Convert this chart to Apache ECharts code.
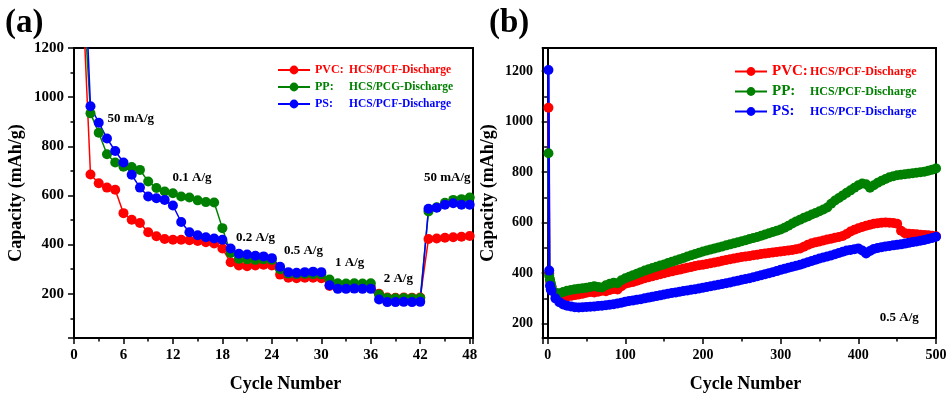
<!DOCTYPE html>
<html>
<head>
<meta charset="utf-8">
<script src="https://cdn.jsdelivr.net/npm/echarts@6/dist/echarts.min.js"></script>
<style>
html, body { margin: 0; padding: 0; background: #fff; }
#chart-a { position: absolute; left: 0; top: 0; width: 480px; height: 399px; }
#chart-b { position: absolute; left: 480px; top: 0; width: 472px; height: 399px; }
</style>
</head>
<body>
<div id="chart-a"></div>
<div id="chart-b"></div>
<script>
// ---- panel (a): rate capability, cycles 1..48 ----
var cyclesA = [];
for (var c = 1; c <= 48; c++) cyclesA.push(c);

var pvcA = [1450, 685, 650, 632, 623, 528, 501, 488, 450, 434, 423, 420, 420, 418, 415, 410, 405, 384,
    328, 315, 312, 315, 318, 315, 278, 265, 263, 265, 265, 263, 232, 228, 228, 227, 228, 228,
    200, 185, 184, 185, 184, 185, 423, 425, 428, 430, 432, 435];
var ppA = [1500, 934, 855, 768, 734, 717, 716, 704, 657, 630, 616, 609, 596, 592, 580, 573, 571, 467,
    366, 342, 340, 338, 340, 338, 300, 282, 280, 281, 280, 279, 258, 243, 242, 243, 242, 243,
    197, 183, 182, 183, 182, 183, 535, 552, 570, 582, 585, 592];
var psA = [1750, 963, 896, 832, 781, 734, 684, 632, 596, 589, 582, 559, 492, 450, 438, 430, 425, 420,
    384, 363, 360, 355, 352, 345, 310, 288, 285, 288, 290, 288, 235, 220, 220, 221, 220, 220,
    177, 166, 166, 167, 166, 167, 546, 550, 562, 568, 562, 562];

var rateLabels = ['50 mA/g', '0.1 A/g', '0.2 A/g', '0.5 A/g', '1 A/g', '2 A/g', '50 mA/g'];
var rateAt = [[4.0, 911], [11.9, 671], [19.6, 427], [25.4, 377], [31.6, 328], [37.5, 262], [42.4, 671]];

var tagsA = ['PVC:', 'PP:', 'PS:'];
var restA = ['HCS/PCF-Discharge', 'HCS/PCG-Discharge', 'HCS/PCF-Discharge'];

// ---- panel (b): long cycling at 0.5 A/g ----
var cyclesB = [1, 2, 3, 4];
for (var k = 5; k <= 500; k += 5) cyclesB.push(k);

var pvcB = [1055, 400, 370, 355,
    345, 318, 308, 305, 308, 310, 313, 315, 318, 322,
    325, 323, 326, 330, 328, 333, 337, 335, 348, 358,
    362, 365, 370, 375, 380, 384, 388, 392, 396, 400,
    404, 407, 411, 414, 418, 421, 424, 428, 431, 433,
    436, 439, 442, 445, 449, 452, 455, 458, 461, 464,
    466, 468, 471, 473, 476, 478, 480, 482, 484, 486,
    488, 490, 492, 495, 498, 505, 512, 518, 522, 525,
    529, 533, 536, 540, 543, 547, 555, 565, 572, 578,
    583, 588, 592, 596, 598, 600, 601, 600, 599, 596,
    568, 558, 556, 555, 554, 552, 551, 550, 548, 546];
var ppB = [875, 390, 375, 360,
    345, 322, 320, 325, 330, 333, 336, 338, 340, 342,
    345, 348, 345, 343, 352, 358, 362, 360, 372, 380,
    386, 392, 398, 404, 410, 415, 420, 425, 430, 434,
    440, 445, 450, 455, 460, 466, 471, 476, 481, 486,
    490, 494, 498, 502, 506, 510, 514, 518, 522, 526,
    530, 535, 539, 543, 548, 553, 558, 563, 568, 573,
    580, 588, 597, 605, 612, 619, 625, 632, 638, 645,
    652, 660, 675, 688, 698, 708, 718, 728, 738, 748,
    755, 752, 738, 748, 758, 766, 773, 780, 784, 788,
    790, 792, 794, 796, 798, 800, 802, 806, 810, 815];
var psB = [1205, 410, 350, 335,
    330, 300, 285, 276, 271, 268, 265, 264, 265, 266,
    267, 268, 270, 271, 273, 275, 277, 280, 283, 287,
    290, 292, 295, 297, 300, 303, 306, 309, 312, 315,
    318, 321, 323, 326, 329, 331, 334, 336, 339, 342,
    345, 348, 351, 354, 357, 360, 363, 367, 370, 374,
    377, 380, 384, 388, 392, 396, 400, 404, 408, 413,
    417, 421, 425, 429, 433, 438, 443, 448, 453, 458,
    462, 466, 470, 475, 480, 485, 490, 492, 495, 498,
    490, 478, 488, 496, 500, 503, 506, 508, 510, 512,
    514, 517, 520, 523, 525, 528, 531, 535, 539, 544];

var tagsB = ['PVC:', 'PP:', 'PS:'];
var restB = ['HCS/PCF-Discharge', 'HCS/PCF-Discharge', 'HCS/PCF-Discharge'];

var colors = ['#ff0000', '#008000', '#0000ff'];
var serif = "'Liberation Serif', 'Times New Roman', serif";

function pairs(xs, ys) {
    return xs.map(function (x, i) { return [x, ys[i]]; });
}

function lineSeries(name, color, xs, ys, size, width) {
    return {
        name: name,
        type: 'line',
        data: pairs(xs, ys),
        symbol: 'circle',
        symbolSize: size,
        itemStyle: { color: color },
        lineStyle: { color: color, width: width },
        emphasis: { disabled: true },
        clip: true
    };
}

function legendRich(tagSize, tagWidth, textSize) {
    var rich = {};
    for (var i = 0; i < 3; i++) {
        rich['t' + i] = { fontFamily: serif, fontWeight: 'bold', fontSize: tagSize, color: colors[i], width: tagWidth, lineHeight: 13 };
        rich['x' + i] = { fontFamily: serif, fontWeight: 'bold', fontSize: textSize, color: colors[i], lineHeight: 13 };
    }
    return rich;
}

function plainNumber(v) { return String(v); }

function axisCommon() {
    return {
        type: 'value',
        axisLine: { show: true, lineStyle: { color: '#000', width: 2 } },
        axisTick: { show: true, length: 6, lineStyle: { color: '#000', width: 1.5 } },
        minorTick: { show: true, splitNumber: 2, length: 3.5, lineStyle: { color: '#000', width: 1.5 } },
        splitLine: { show: false },
        nameLocation: 'middle',
        nameMoveOverlap: false,
        nameTextStyle: { color: '#000', fontFamily: serif, fontWeight: 'bold', fontSize: 18 }
    };
}

function merge(a, b) {
    for (var key in b) a[key] = b[key];
    return a;
}

// ---------- chart (a) ----------
var namesA = tagsA.map(function (t, i) { return t + ' ' + restA[i]; });
var chartA = echarts.init(document.getElementById('chart-a'));

var seriesA = [
    lineSeries(namesA[0], colors[0], cyclesA, pvcA, 10, 1.5),
    lineSeries(namesA[1], colors[1], cyclesA, ppA, 10, 1.5),
    lineSeries(namesA[2], colors[2], cyclesA, psA, 10, 1.5)
];
seriesA[2].markPoint = {
    silent: true,
    symbol: 'circle',
    symbolSize: 1,
    itemStyle: { color: 'rgba(0,0,0,0)' },
    label: { show: true, position: 'right', distance: 0, formatter: '{b}', color: '#000',
        fontFamily: serif, fontWeight: 'bold', fontSize: 13 },
    data: rateLabels.map(function (t, i) { return { name: t, coord: rateAt[i] }; })
};

chartA.setOption({
    animation: false,
    title: { text: '(a)', left: 0, top: 2, textStyle: { fontFamily: serif, fontWeight: 'bold', fontSize: 33, color: '#000' } },
    grid: { left: 74, top: 48, width: 399, height: 290, show: true, borderColor: '#000', borderWidth: 2,
        outerBoundsMode: 'none', containLabel: false },
    legend: {
        orient: 'vertical', left: 272, top: 59,
        itemWidth: 32, itemHeight: 11, itemGap: 5,
        data: namesA,
        formatter: function (name) {
            var i = namesA.indexOf(name);
            return '{t' + i + '|' + tagsA[i] + '}{x' + i + '|' + restA[i] + '}';
        },
        textStyle: { rich: legendRich(12, 34, 11.5) }
    },
    xAxis: merge(axisCommon(), {
        min: 0, max: 48.4, interval: 6,
        name: 'Cycle Number', nameGap: 37,
        nameTextStyle: { color: '#000', fontFamily: serif, fontWeight: 'bold', fontSize: 18, padding: [0, 0, 0, 24] },
        axisLabel: { color: '#000', fontFamily: serif, fontWeight: 'bold', fontSize: 15, margin: 10, showMaxLabel: false }
    }),
    yAxis: merge(axisCommon(), {
        min: 20, max: 1200,
        name: 'Capacity (mAh/g)', nameGap: 49,
        axisLabel: { color: '#000', fontFamily: serif, fontWeight: 'bold', fontSize: 15, margin: 10, showMinLabel: false, formatter: plainNumber }
    }),
    series: seriesA
});

// ---------- chart (b) ----------
var namesB = tagsB.map(function (t, i) { return t + ' ' + restB[i]; });
var chartB = echarts.init(document.getElementById('chart-b'));

var seriesB = [
    lineSeries(namesB[0], colors[0], cyclesB, pvcB, 10, 2.5),
    lineSeries(namesB[1], colors[1], cyclesB, ppB, 10, 2.5),
    lineSeries(namesB[2], colors[2], cyclesB, psB, 10, 2.5)
];
seriesB[2].markPoint = {
    silent: true,
    symbol: 'circle',
    symbolSize: 1,
    itemStyle: { color: 'rgba(0,0,0,0)' },
    label: { show: true, position: 'right', distance: 0, formatter: '{b}', color: '#000',
        fontFamily: serif, fontWeight: 'bold', fontSize: 13 },
    data: [{ name: '0.5 A/g', coord: [427, 225] }]
};

chartB.setOption({
    animation: false,
    title: { text: '(b)', left: 4, top: 2, textStyle: { fontFamily: serif, fontWeight: 'bold', fontSize: 33, color: '#000' } },
    grid: { left: 63, top: 48, width: 393, height: 290, show: true, borderColor: '#000', borderWidth: 2,
        outerBoundsMode: 'none', containLabel: false },
    legend: {
        orient: 'vertical', left: 249, top: 59,
        itemWidth: 32, itemHeight: 11, itemGap: 5,
        data: namesB,
        formatter: function (name) {
            var i = namesB.indexOf(name);
            return '{t' + i + '|' + tagsB[i] + '}{x' + i + '|' + restB[i] + '}';
        },
        textStyle: { rich: legendRich(15, 38, 12) }
    },
    xAxis: merge(axisCommon(), {
        min: -6, max: 500,
        name: 'Cycle Number', nameGap: 37,
        nameTextStyle: { color: '#000', fontFamily: serif, fontWeight: 'bold', fontSize: 18, padding: [0, 0, 0, 12] },
        axisLabel: { color: '#000', fontFamily: serif, fontWeight: 'bold', fontSize: 14, margin: 10, showMinLabel: false }
    }),
    yAxis: merge(axisCommon(), {
        min: 143, max: 1292,
        name: 'Capacity (mAh/g)', nameGap: 46,
        axisLabel: { color: '#000', fontFamily: serif, fontWeight: 'bold', fontSize: 14, margin: 10, showMinLabel: false, showMaxLabel: false, formatter: plainNumber }
    }),
    series: seriesB
});
</script>
</body>
</html>
